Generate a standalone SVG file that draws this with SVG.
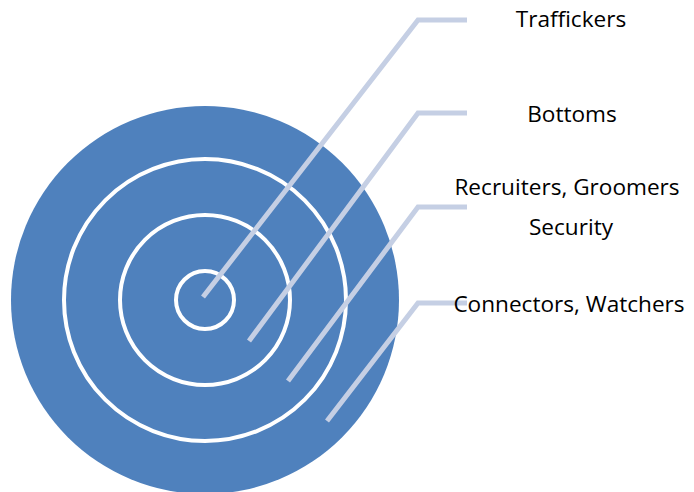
<svg xmlns="http://www.w3.org/2000/svg" width="694" height="492" viewBox="0 0 694 492">
<style>
.ring{fill:none;stroke:#ffffff;stroke-width:4}
.lead{fill:none;stroke:#c5cfe4;stroke-width:5;stroke-linejoin:miter}
.lbl{font-family:"Open Sans","Liberation Sans",sans-serif;font-size:22.6px;fill:#000000;text-anchor:middle}
</style>
<rect width="694" height="492" fill="#ffffff"/>
<g id="target">
<circle cx="205" cy="300" r="194" fill="#4f81bd"/>
<circle class="ring" cx="205" cy="300" r="141"/>
<circle class="ring" cx="205" cy="300" r="85"/>
<circle class="ring" cx="205" cy="300" r="29"/>
</g>
<g id="connectors">
<polyline class="lead" points="203,297 418,20 467,20"/>
<polyline class="lead" points="249,341 418,113 467,113"/>
<polyline class="lead" points="288,381 418,207 467,207"/>
<polyline class="lead" points="327,421 418,303 467,303"/>
</g>
<g id="traffickers"><text class="lbl" x="571" y="27">Traffickers</text></g>
<g id="bottoms"><text class="lbl" x="572" y="122">Bottoms</text></g>
<g id="recruiters"><text class="lbl" x="567" y="195">Recruiters, Groomers</text></g>
<g id="security"><text class="lbl" x="571" y="235">Security</text></g>
<g id="connectors-watchers"><text class="lbl" x="569" y="312">Connectors, Watchers</text></g>
</svg>
